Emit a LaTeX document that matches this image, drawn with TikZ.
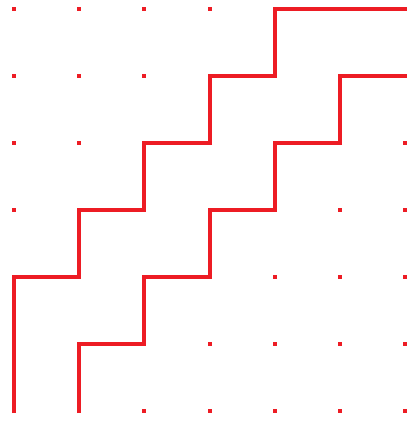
\documentclass[tikz,border=0pt]{standalone}
\usetikzlibrary{calc}
\definecolor{stairred}{HTML}{ED1C24}
\begin{document}
\begin{tikzpicture}[x=1pt,y=-1pt,
  stair/.style={draw=stairred,line width=4pt,line join=miter},
  griddot/.style={fill=stairred}]
\useasboundingbox (0,0) rectangle (413,421);
\foreach \i in {0,...,6}{
  \foreach \j in {0,...,6}{
    \coordinate (p\i\j) at ({14+65.2*\i},{9+67*\j});
    \fill[griddot] ($(p\i\j)+(-2,-1.7)$) rectangle ($(p\i\j)+(2,1.7)$);
  }
}
\coordinate (s1) at ($(p06)+(0,2)$);
\coordinate (s2) at ($(p16)+(0,2)$);
\coordinate (e1) at ($(p60)+(1,0)$);
\coordinate (e2) at ($(p61)+(1,0)$);
\draw[stair] (s1) |- (p14) |- (p23) |- (p32) |- (p41) |- (p50) -- (e1);
\draw[stair] (s2) |- (p25) |- (p34) |- (p43) |- (p52) |- (p61) -- (e2);
\end{tikzpicture}
\end{document}
